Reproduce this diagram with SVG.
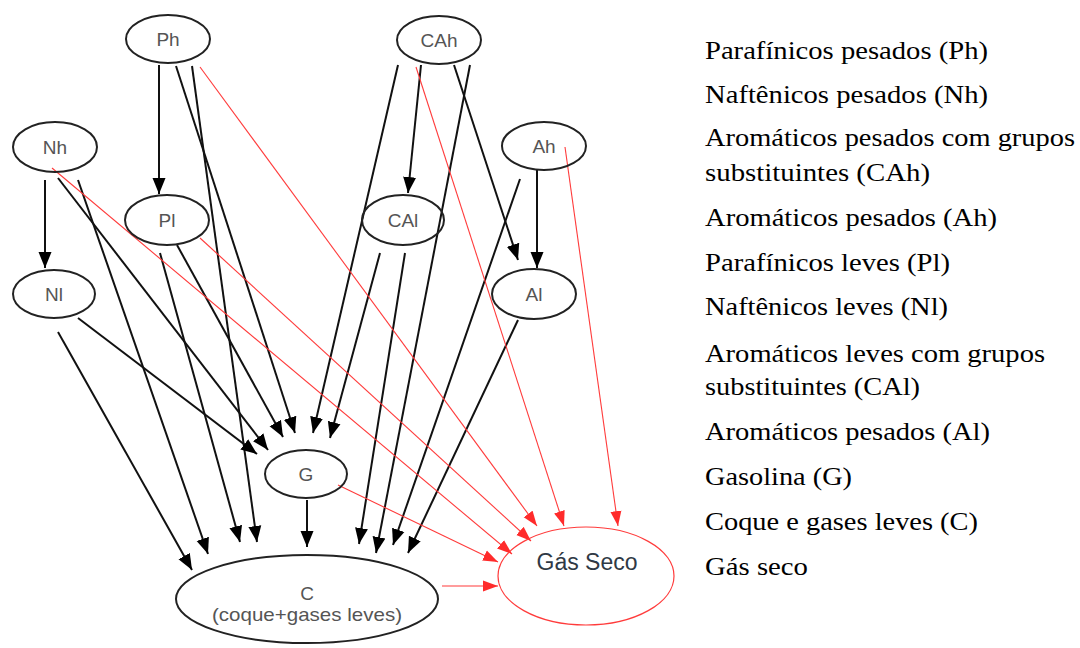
<svg xmlns="http://www.w3.org/2000/svg" width="1080" height="648" viewBox="0 0 1080 648">
<style>
.n{fill:none;stroke:#222;stroke-width:2}
.nl{font-family:"Liberation Sans",Arial,sans-serif;font-size:19px;fill:#555;text-anchor:middle}
.e{stroke:#111;stroke-width:2;fill:none}
.r{stroke:#ff3b3b;stroke-width:1.1;fill:none}
.lg{font-family:"Liberation Serif","Times New Roman",serif;font-size:26px;fill:#000}
</style>
<defs>
<marker id="ab" markerUnits="userSpaceOnUse" markerWidth="16" markerHeight="14" refX="16" refY="7" orient="auto"><path d="M0,0.5 L16,7 L0,13.5 z" fill="#000"/></marker>
<marker id="ar" markerUnits="userSpaceOnUse" markerWidth="15" markerHeight="12" refX="15" refY="6" orient="auto"><path d="M0,0.5 L15,6 L0,11.5 z" fill="#ff2b2b"/></marker>
</defs>
<rect width="1080" height="648" fill="#fff"/>
<g id="connectors">
<line class="e" x1="159" y1="65" x2="159" y2="194" marker-end="url(#ab)"/>
<line class="e" x1="176" y1="66" x2="295" y2="433" marker-end="url(#ab)"/>
<line class="e" x1="192" y1="66" x2="257" y2="542" marker-end="url(#ab)"/>
<line class="e" x1="45" y1="180" x2="45" y2="268" marker-end="url(#ab)"/>
<line class="e" x1="58" y1="178" x2="268" y2="450" marker-end="url(#ab)"/>
<line class="e" x1="78" y1="180" x2="208" y2="554" marker-end="url(#ab)"/>
<line class="e" x1="177" y1="245" x2="283" y2="437" marker-end="url(#ab)"/>
<line class="e" x1="160" y1="253" x2="240" y2="542" marker-end="url(#ab)"/>
<line class="e" x1="78" y1="318" x2="257" y2="454" marker-end="url(#ab)"/>
<line class="e" x1="58" y1="332" x2="192" y2="570" marker-end="url(#ab)"/>
<line class="e" x1="421" y1="65" x2="408" y2="193" marker-end="url(#ab)"/>
<line class="e" x1="398" y1="65" x2="313" y2="433" marker-end="url(#ab)"/>
<line class="e" x1="454" y1="65" x2="518" y2="260" marker-end="url(#ab)"/>
<line class="e" x1="470" y1="65" x2="376" y2="553" marker-end="url(#ab)"/>
<line class="e" x1="537" y1="170" x2="537" y2="268" marker-end="url(#ab)"/>
<line class="e" x1="520" y1="179" x2="393" y2="545" marker-end="url(#ab)"/>
<line class="e" x1="380" y1="253" x2="330" y2="438" marker-end="url(#ab)"/>
<line class="e" x1="405" y1="253" x2="359" y2="544" marker-end="url(#ab)"/>
<line class="e" x1="518" y1="320" x2="408" y2="553" marker-end="url(#ab)"/>
<line class="e" x1="307" y1="500" x2="307" y2="547" marker-end="url(#ab)"/>
<line class="r" x1="200" y1="67" x2="537" y2="526" marker-end="url(#ar)"/>
<line class="r" x1="52" y1="168" x2="512" y2="554" marker-end="url(#ar)"/>
<line class="r" x1="200" y1="238" x2="531" y2="541" marker-end="url(#ar)"/>
<line class="r" x1="416" y1="67" x2="564" y2="526" marker-end="url(#ar)"/>
<line class="r" x1="565" y1="147" x2="618" y2="526" marker-end="url(#ar)"/>
<line class="r" x1="338" y1="485" x2="498" y2="562" marker-end="url(#ar)"/>
<line class="r" x1="442" y1="586" x2="498" y2="586" marker-end="url(#ar)"/>
</g>
<g id="Ph"><ellipse class="n" cx="168" cy="39" rx="42" ry="24"/><text class="nl" x="168" y="46">Ph</text></g>
<g id="Nh"><ellipse class="n" cx="55" cy="147" rx="42" ry="25"/><text class="nl" x="55" y="154">Nh</text></g>
<g id="Pl"><ellipse class="n" cx="167" cy="220" rx="42" ry="25"/><text class="nl" x="167" y="227">Pl</text></g>
<g id="Nl"><ellipse class="n" cx="54" cy="294" rx="41" ry="24"/><text class="nl" x="54" y="301">Nl</text></g>
<g id="CAh"><ellipse class="n" cx="439" cy="40" rx="42" ry="24"/><text class="nl" x="439" y="47">CAh</text></g>
<g id="Ah"><ellipse class="n" cx="544" cy="146" rx="42" ry="24"/><text class="nl" x="544" y="153">Ah</text></g>
<g id="CAl"><ellipse class="n" cx="403" cy="220" rx="41" ry="25"/><text class="nl" x="403" y="227">CAl</text></g>
<g id="Al"><ellipse class="n" cx="534" cy="294" rx="42" ry="25"/><text class="nl" x="534" y="301">Al</text></g>
<g id="G"><ellipse class="n" cx="306" cy="474" rx="41" ry="24"/><text class="nl" x="306" y="481">G</text></g>
<g id="C"><ellipse class="n" cx="307" cy="599" rx="131" ry="44"/><text class="nl" x="307" y="600">C</text><text class="nl" x="307" y="621" textLength="190" lengthAdjust="spacingAndGlyphs">(coque+gases leves)</text></g>
<g id="GasSeco"><ellipse cx="586" cy="576" rx="88" ry="49" fill="none" stroke="#ff3b3b" stroke-width="1.2"/><text x="587" y="570" text-anchor="middle" font-family="Liberation Sans,Arial,sans-serif" font-size="23" fill="#2f3945">Gás Seco</text></g>
<g id="legend">
<text class="lg" x="705" y="59" textLength="283" lengthAdjust="spacingAndGlyphs">Parafínicos pesados (Ph)</text>
<text class="lg" x="705" y="103" textLength="283" lengthAdjust="spacingAndGlyphs">Naftênicos pesados (Nh)</text>
<text class="lg" x="705" y="146" textLength="370" lengthAdjust="spacingAndGlyphs">Aromáticos pesados com grupos</text>
<text class="lg" x="705" y="181" textLength="225" lengthAdjust="spacingAndGlyphs">substituintes (CAh)</text>
<text class="lg" x="705" y="226" textLength="292" lengthAdjust="spacingAndGlyphs">Aromáticos pesados (Ah)</text>
<text class="lg" x="705" y="271" textLength="245" lengthAdjust="spacingAndGlyphs">Parafínicos leves (Pl)</text>
<text class="lg" x="705" y="315" textLength="243" lengthAdjust="spacingAndGlyphs">Naftênicos leves (Nl)</text>
<text class="lg" x="705" y="362" textLength="340" lengthAdjust="spacingAndGlyphs">Aromáticos leves com grupos</text>
<text class="lg" x="705" y="395" textLength="215" lengthAdjust="spacingAndGlyphs">substituintes (CAl)</text>
<text class="lg" x="705" y="440" textLength="285" lengthAdjust="spacingAndGlyphs">Aromáticos pesados (Al)</text>
<text class="lg" x="705" y="485" textLength="147" lengthAdjust="spacingAndGlyphs">Gasolina (G)</text>
<text class="lg" x="705" y="530" textLength="273" lengthAdjust="spacingAndGlyphs">Coque e gases leves (C)</text>
<text class="lg" x="705" y="575" textLength="103" lengthAdjust="spacingAndGlyphs">Gás seco</text>
</g>
</svg>
